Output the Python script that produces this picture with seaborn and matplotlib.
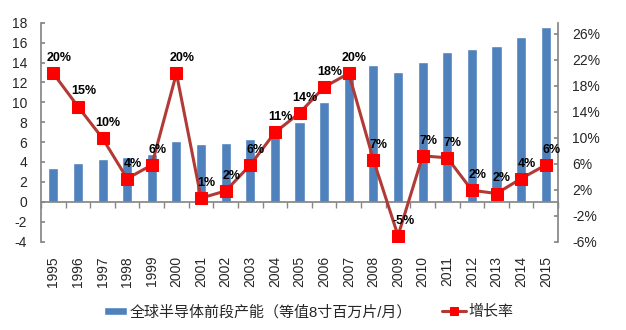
import numpy as np
import pandas as pd
import matplotlib
matplotlib.use("Agg")
import matplotlib.pyplot as plt
import seaborn as sns
from matplotlib.ticker import FixedLocator, FuncFormatter

years = [str(y) for y in range(1995, 2016)]
capacity = [3.35, 3.9, 4.3, 4.5, 4.8, 6.1, 5.8, 5.9, 6.3, 6.8, 8.0, 10.0, 12.8,
            13.8, 13.1, 14.1, 15.1, 15.4, 15.65, 16.6, 17.6]
growth = [19.9, 14.8, 9.9, 3.7, 5.8, 19.9, 0.7, 1.8, 5.8, 10.8, 13.8, 17.8, 19.9,
          6.6, -5.1, 7.2, 6.9, 1.9, 1.4, 3.7, 5.8]
growth_labels = ["20%", "15%", "10%", "4%", "6%", "20%", "1%", "2%", "6%", "11%", "14%",
                 "18%", "20%", "7%", "-5%", "7%", "7%", "2%", "2%", "4%", "6%"]
left_ticks = [-4, -2, 0, 2, 4, 6, 8, 10, 12, 14, 16, 18]
right_ticks = [-6, -2, 2, 6, 10, 14, 18, 22, 26]
bar_name = "全球半导体前段产能（等值8寸百万片/月）"
line_name = "增长率"

sns.set_theme(style="white")
plt.rcParams['font.family'] = ['Liberation Sans', 'Noto Sans CJK SC', 'DejaVu Sans']

BAR = "#4F81BD"
LINE = "#B23A36"
MARK = "#FF0000"
SPINE = "#868686"

df = pd.DataFrame({"year": years, "capacity": capacity, "growth": growth})
df["pos"] = np.arange(len(df))

fig = plt.figure(figsize=(6.26, 3.30), dpi=100)
ax = fig.add_axes([0.0655, 0.268, 0.826, 0.663])

sns.barplot(data=df, x="year", y="capacity", color=BAR, saturation=1, width=0.41, ax=ax,
            label=bar_name)
ax.set_ylim(-4, 18)
ax.set_xlim(-0.5, len(years) - 0.5)
ax.set_yticks(left_ticks)
ax.set_yticklabels([str(t) for t in left_ticks])
ax.set_xlabel("")
ax.set_ylabel("")

ax2 = ax.twinx()
sns.lineplot(data=df, x="pos", y="growth", color=LINE, linewidth=2.2, ax=ax2, label=line_name,
             marker="s", markersize=8, markerfacecolor=MARK, markeredgecolor=MARK)
ax2.set_ylim(-6, 27.7)
ax2.set_xlim(-0.5, len(years) - 0.5)
ax2.yaxis.set_major_locator(FixedLocator(right_ticks))
ax2.yaxis.set_major_formatter(FuncFormatter(lambda v, p: f"{v:.0f}%"))
ax2.set_ylabel("")
ax2.set_xlabel("")

for i, (g, lab) in enumerate(zip(growth, growth_labels)):
    ax2.annotate(lab, (i, g), xytext=(4, 6.5), textcoords="offset points", ha="center",
                 va="bottom", fontsize=9, fontweight="bold", color="black")

# spines
for a in (ax, ax2):
    for s in a.spines.values():
        s.set_visible(False)
ax.spines['left'].set_visible(True)
ax.spines['left'].set_color(SPINE)
ax2.spines['right'].set_visible(True)
ax2.spines['right'].set_color(SPINE)
ax.spines['bottom'].set_visible(True)
ax.spines['bottom'].set_color(SPINE)
ax.spines['bottom'].set_position(('data', 0))

ax.tick_params(axis='y', which='major', direction='in', length=3, color=SPINE,
               labelsize=10, pad=10, left=True)
ax2.tick_params(axis='y', which='major', direction='in', length=3, color=SPINE,
                labelsize=10, pad=10, right=True)
ax.set_xticks(np.arange(len(years) + 1) - 0.5, minor=True)
ax.tick_params(axis='x', which='minor', direction='out', length=4, color=SPINE, bottom=True)
ax.tick_params(axis='x', which='major', length=0, labelsize=10, pad=39, rotation=90)
for t in ax.get_xticklabels():
    t.set_va("top")
ax2.tick_params(axis='x', which='both', bottom=False, labelbottom=False)

# legend
h1, l1 = ax.get_legend_handles_labels()
h2, l2 = ax2.get_legend_handles_labels()
if ax2.get_legend():
    ax2.get_legend().remove()
if ax.get_legend():
    ax.get_legend().remove()
fig.legend(h1 + h2, l1 + l2, loc="center", bbox_to_anchor=(0.493, 0.055), ncol=2,
           frameon=False, fontsize=10.8, handlelength=1.55, handleheight=0.5,
           columnspacing=2.0, handletextpad=0.2, markerscale=0.75)

fig.savefig("out.png", dpi=100)
